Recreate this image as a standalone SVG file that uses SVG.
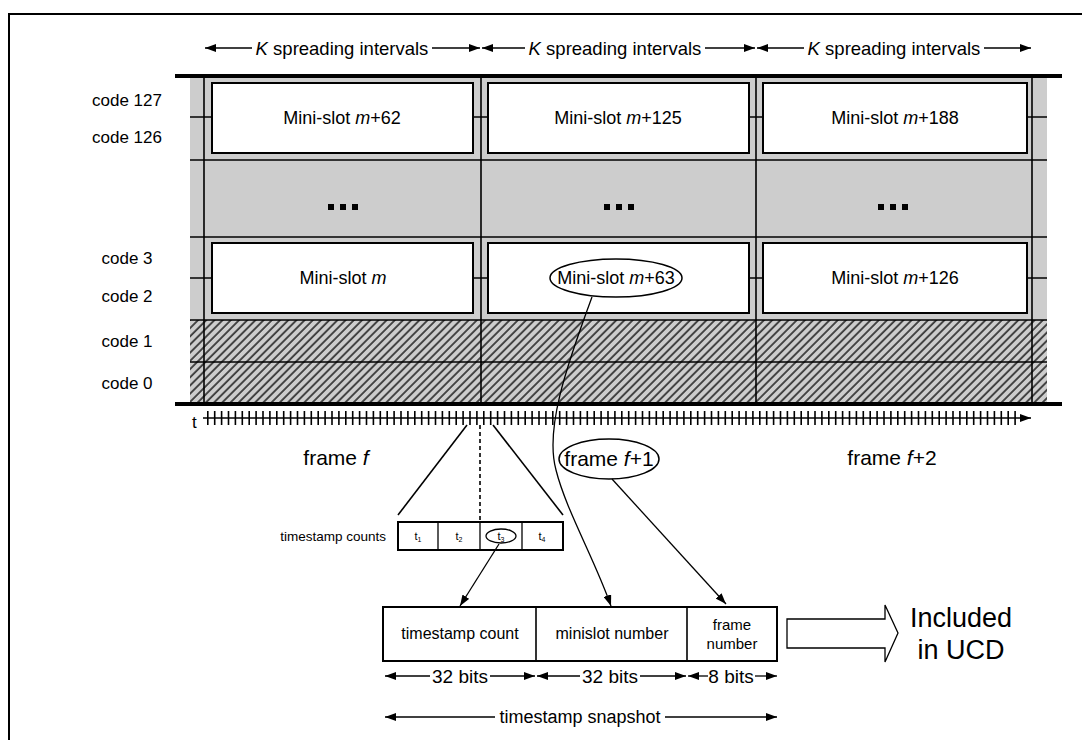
<svg xmlns="http://www.w3.org/2000/svg" width="1082" height="740" viewBox="0 0 1082 740">
<style>
text{font-family:"Liberation Sans",Arial,sans-serif;fill:#000}
.hdr{font-size:18.5px;text-anchor:middle}
.code{font-size:17px;text-anchor:middle}
.ms{font-size:18px;text-anchor:middle}
.fr{font-size:21px;text-anchor:middle}
.it{font-style:italic}
.ln{stroke:#000;stroke-width:1.3;fill:none}
.arr{stroke:#000;stroke-width:1.3;fill:none;marker-end:url(#ah)}
.box{fill:#fff;stroke:#000;stroke-width:2}
.grid{stroke:#000;stroke-width:1.6}
.thick{stroke:#000;stroke-width:4}
.fld{font-size:16px;text-anchor:middle}
.bits{font-size:19px;text-anchor:middle}
</style>
<defs>
<marker id="ah" markerWidth="11" markerHeight="8" refX="11" refY="4" orient="auto" markerUnits="userSpaceOnUse"><path d="M0,0 L11,4 L0,8 z" fill="#000"/></marker>
<pattern id="hatch" width="5.8" height="5.8" patternUnits="userSpaceOnUse" patternTransform="rotate(45)"><rect width="5.8" height="5.8" fill="#cdcdcd"/><line x1="1" y1="0" x2="1" y2="5.8" stroke="#000" stroke-width="1.3"/></pattern>
</defs>
<rect width="1082" height="740" fill="#fff"/>
<path d="M9,740 V14 H1082" fill="none" stroke="#000" stroke-width="2"/>

<g id="header">
<text class="hdr" x="342" y="55"><tspan class="it">K</tspan> spreading intervals</text>
<text class="hdr" x="615" y="55"><tspan class="it">K</tspan> spreading intervals</text>
<text class="hdr" x="894" y="55"><tspan class="it">K</tspan> spreading intervals</text>
<line class="arr" x1="252" y1="48" x2="205" y2="48"/>
<line class="arr" x1="432" y1="48" x2="480" y2="48"/>
<line class="arr" x1="525" y1="48" x2="482" y2="48"/>
<line class="arr" x1="705" y1="48" x2="755" y2="48"/>
<line class="arr" x1="804" y1="48" x2="757" y2="48"/>
<line class="arr" x1="984" y1="48" x2="1031" y2="48"/>
</g>

<g id="code-labels">
<text class="code" x="127" y="106">code 127</text>
<text class="code" x="127" y="143">code 126</text>
<text class="code" x="127" y="264">code 3</text>
<text class="code" x="127" y="302">code 2</text>
<text class="code" x="127" y="347">code 1</text>
<text class="code" x="127" y="389">code 0</text>
</g>

<g id="grid">
<rect x="190" y="76" width="857" height="244" fill="#cdcdcd"/>
<rect x="190" y="320" width="857" height="84" fill="url(#hatch)"/>
<line class="grid" x1="190" y1="117" x2="1047" y2="117"/>
<line class="grid" x1="190" y1="160" x2="1047" y2="160"/>
<line class="grid" x1="190" y1="237" x2="1047" y2="237"/>
<line class="grid" x1="190" y1="278" x2="1047" y2="278"/>
<line class="grid" x1="190" y1="320" x2="1047" y2="320"/>
<line class="grid" x1="190" y1="362" x2="1047" y2="362"/>
<line class="grid" x1="204" y1="76" x2="204" y2="404"/>
<line class="grid" x1="481" y1="76" x2="481" y2="404"/>
<line class="grid" x1="756" y1="76" x2="756" y2="404"/>
<line class="grid" x1="1032" y1="76" x2="1032" y2="404"/>
<line class="thick" x1="175" y1="76" x2="1062" y2="76"/>
<line class="thick" x1="175" y1="404" x2="1062" y2="404"/>
<g fill="#000">
<rect x="328" y="204" width="6" height="6"/><rect x="340" y="204" width="6" height="6"/><rect x="352" y="204" width="6" height="6"/>
<rect x="604" y="204" width="6" height="6"/><rect x="616" y="204" width="6" height="6"/><rect x="628" y="204" width="6" height="6"/>
<rect x="878" y="204" width="6" height="6"/><rect x="890" y="204" width="6" height="6"/><rect x="902" y="204" width="6" height="6"/>
</g>
</g>

<g id="ms-m62"><rect class="box" x="212" y="83" width="261" height="70"/><text class="ms" x="342" y="124">Mini-slot <tspan class="it">m</tspan>+62</text></g>
<g id="ms-m125"><rect class="box" x="488" y="83" width="261" height="70"/><text class="ms" x="618" y="124">Mini-slot <tspan class="it">m</tspan>+125</text></g>
<g id="ms-m188"><rect class="box" x="763" y="83" width="264" height="70"/><text class="ms" x="895" y="124">Mini-slot <tspan class="it">m</tspan>+188</text></g>
<g id="ms-m"><rect class="box" x="212" y="243" width="261" height="70"/><text class="ms" x="343" y="284">Mini-slot <tspan class="it">m</tspan></text></g>
<g id="ms-m63"><rect class="box" x="488" y="243" width="261" height="70"/><ellipse cx="616" cy="278" rx="66" ry="19" fill="none" stroke="#000" stroke-width="1.5"/><text class="ms" x="616" y="284">Mini-slot <tspan class="it">m</tspan>+63</text></g>
<g id="ms-m126"><rect class="box" x="763" y="243" width="264" height="70"/><text class="ms" x="895" y="284">Mini-slot <tspan class="it">m</tspan>+126</text></g>

<g id="timeline">
<text x="192" y="428" style="font-size:17px">t</text>
<line x1="207" y1="418" x2="1016" y2="418" stroke="#000" stroke-width="14" stroke-dasharray="1.6 5.3"/>
<line class="arr" x1="203" y1="418" x2="1031" y2="418" style="stroke-width:1.6"/>
</g>

<g id="frames">
<text class="fr" x="336" y="465">frame <tspan class="it">f</tspan></text>
<g id="frame-f1"><ellipse cx="609" cy="459" rx="50" ry="20" fill="none" stroke="#000" stroke-width="1.5"/><text class="fr" x="609" y="466">frame <tspan class="it">f</tspan>+1</text></g>
<text class="fr" x="892" y="465">frame <tspan class="it">f</tspan>+2</text>
</g>

<g id="timestamp-counts">
<text x="386" y="541" style="font-size:13.5px;text-anchor:end">timestamp counts</text>
<rect x="398" y="522" width="165" height="28" fill="#fff" stroke="#000" stroke-width="2"/>
<line class="ln" x1="438" y1="522" x2="438" y2="550"/>
<line class="ln" x1="480" y1="522" x2="480" y2="550"/>
<line class="ln" x1="522" y1="522" x2="522" y2="550"/>
<g style="font-size:11px;text-anchor:middle">
<text x="418" y="540">t<tspan dy="2" style="font-size:7px">1</tspan></text>
<text x="459" y="540">t<tspan dy="2" style="font-size:7px">2</tspan></text>
<text x="501" y="540">t<tspan dy="2" style="font-size:7px">3</tspan></text>
<text x="542" y="540">t<tspan dy="2" style="font-size:7px">4</tspan></text>
</g>
<ellipse cx="501" cy="536" rx="15" ry="7" fill="none" stroke="#000" stroke-width="1.3"/>
</g>

<g id="fields">
<rect x="383" y="607" width="394" height="54" fill="#fff" stroke="#000" stroke-width="2"/>
<line class="ln" x1="536" y1="607" x2="536" y2="661" style="stroke-width:1.6"/>
<line class="ln" x1="687" y1="607" x2="687" y2="661" style="stroke-width:1.6"/>
<text class="fld" x="460" y="639">timestamp count</text>
<text class="fld" x="612" y="639">minislot number</text>
<text x="732" y="630" style="font-size:15px;text-anchor:middle">frame</text>
<text x="732" y="649" style="font-size:15px;text-anchor:middle">number</text>
</g>

<g id="bits">
<text class="bits" x="460" y="683">32 bits</text>
<text class="bits" x="610" y="683">32 bits</text>
<text class="bits" x="731" y="683">8 bits</text>
<line class="arr" x1="430" y1="676" x2="385" y2="676"/>
<line class="arr" x1="490" y1="676" x2="535" y2="676"/>
<line class="arr" x1="580" y1="676" x2="537" y2="676"/>
<line class="arr" x1="640" y1="676" x2="686" y2="676"/>
<line class="arr" x1="708" y1="676" x2="688" y2="676"/>
<line class="arr" x1="755" y1="676" x2="777" y2="676"/>
<text x="580" y="723" style="font-size:18px;text-anchor:middle">timestamp snapshot</text>
<line class="arr" x1="495" y1="717" x2="385" y2="717"/>
<line class="arr" x1="665" y1="717" x2="777" y2="717"/>
</g>

<g id="ucd">
<polygon points="787,619 885,619 885,605 898,633 885,662 885,648 787,648" fill="#fff" stroke="#000" stroke-width="1.3"/>
<text x="961" y="627" style="font-size:27px;text-anchor:middle">Included</text>
<text x="961" y="659" style="font-size:27px;text-anchor:middle">in UCD</text>
</g>

<g id="connectors">
<line class="ln" x1="467" y1="425" x2="398" y2="515" style="stroke-width:1.6"/>
<line class="ln" x1="493" y1="425" x2="563" y2="515" style="stroke-width:1.6"/>
<line class="ln" x1="480" y1="425" x2="480" y2="520" style="stroke-dasharray:4 3;stroke-width:1.6"/>
<line class="arr" x1="499" y1="544" x2="460" y2="606"/>
<path class="arr" d="M592,297 C565,370 545,430 556,470 C566,510 595,560 611,606"/>
<line class="arr" x1="612" y1="479" x2="726" y2="604"/>
</g>
</svg>
